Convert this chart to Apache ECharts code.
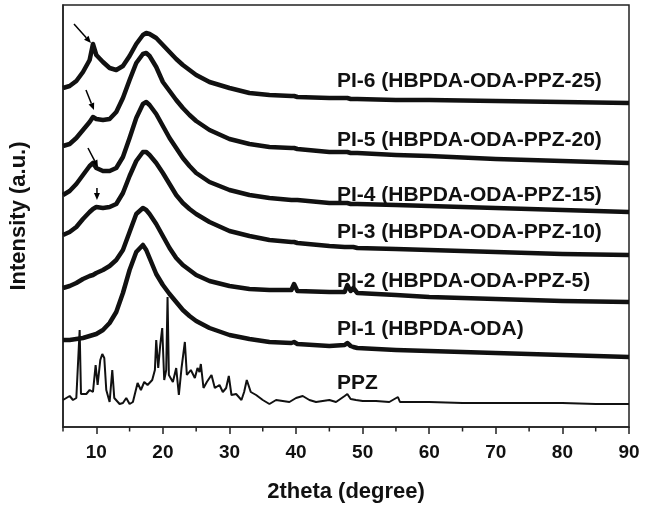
<!DOCTYPE html>
<html>
<head>
<meta charset="utf-8">
<script src="https://cdn.jsdelivr.net/npm/echarts@6/dist/echarts.min.js"></script>
<style>
html,body{margin:0;padding:0;background:#fff;}
#chart{width:646px;height:508px;}
</style>
</head>
<body>
<div id="chart"></div>
<script>
// 2theta grid (degree) shared by the PI films
const theta = [5,6,7,8,9,9.5,10,11,12,13,14,15,16,17,17.5,18,19,20,21,22,23,24,25,27,30,33,36,39.3,39.7,40.2,45,47.3,47.7,48.2,48.6,49.2,55,60,70,80,90];

// Intensity (a.u., stacked offsets as in the figure)
const pi6 = [339,341,346,355,367,383,372,365,359,357,361,371,383,392,394,393,389,382,375,368,362,357,352,345,339,334,332,331,331,330,329,329,329,328,328,328,327,327,326,325,324];
const pi5 = [281,283,289,297,305,310,308,307,308,315,329,347,364,373,374,371,360,345,336,327,319,312,306,297,288,283,280,279,279,278,275,275,275,274,274,274,272,271,268,266,264];
const pi4 = [232,236,243,252,261,264,259,256,256,259,270,289,309,323,325,322,313,301,289,279,269,261,254,245,237,232,229,227,227,227,224,224,224,223,223,223,222,221,219,217,215];
const pi3 = [192,195,200,208,215,218,220,219,220,223,234,251,266,275,275,272,264,254,243,232,224,218,213,205,196,191,187,185,185,184,181,180,180,180,180,179,178,177,175,173,172];
const pi2 = [139,141,144,148,151,152,154,157,161,167,177,195,213,219,217,213,203,191,179,169,162,157,152,146,141,138,137,137,143,136,135,135,142,136,139,134,132,130,128,126,125];
const pi1 = [87,87,88,89,91,92,93,97,104,115,134,157,175,182,177,169,153,142,133,125,117,111,106,99,92,88,85,84,85,83,81,82,84,81,80,79,77,76,74,72,70];

// PPZ (crystalline) pattern
const thetaPPZ = [5,5.5,6,6.5,7,7.3,7.5,7.7,8,8.5,9,9.5,9.9,10.2,10.6,10.9,11.2,11.5,12,12.4,12.7,13.5,14,14.5,15,15.5,16.2,16.7,17.2,17.7,18.4,18.8,19,19.3,19.6,19.9,20.2,20.5,20.7,20.9,21.5,22,22.4,22.8,23.3,23.6,24.2,24.8,25.2,25.5,25.7,26.1,26.6,27.3,27.8,28.5,29,29.5,29.9,30.3,31,31.8,32.2,32.6,33.2,34,35,36,37,38,39,40,41,42,43,44,45,46,47.3,47.7,48.2,49,50,52,54,55.3,55.6,58,60,65,70,75,80,85,90];
const ppz = [27,29,31,27,29,31,97,33,31,33,37,35,62,42,67,73,69,37,25,57,29,23,24,29,23,25,44,37,45,42,47,57,87,59,82,99,47,57,130,52,45,59,32,59,85,52,57,49,59,55,63,39,45,52,39,42,35,39,51,32,33,27,35,47,35,32,27,23,27,26,25,29,31,27,25,26,27,25,31,33,28,27,26,26,25,30,25,25,25,24,24,24,24,23,23];

const seriesNames = ['PI-6 (HBPDA-ODA-PPZ-25)','PI-5 (HBPDA-ODA-PPZ-20)','PI-4 (HBPDA-ODA-PPZ-15)','PI-3 (HBPDA-ODA-PPZ-10)','PI-2 (HBPDA-ODA-PPZ-5)','PI-1 (HBPDA-ODA)','PPZ'];

// axis ticks
const xMajorTicks = [10,20,30,40,50,60,70,80,90];
const xMinorTicks = [5,15,25,35,45,55,65,75,85];

// arrows marking the shoulder near 9-10 degree: [x0,y0,x1,y1]
const arrows = [[6.65,403,9.2,384],[8.45,337,9.65,317],[8.75,279,10.25,260],[10.1,239,10.1,227]];

// label layout (pixels)
const labelX = 337;
const labelY = [81,140,195,232,281,329,383];

const FONT = "'Liberation Sans', Arial, Helvetica, sans-serif";
const INK = '#111';
const Y_MIN = 0, Y_MAX = 422;

const piSets = [pi6,pi5,pi4,pi3,pi2,pi1];
const series = piSets.map((arr,k)=>({
  name: seriesNames[k],
  type:'line',
  data: theta.map((t,i)=>[t,arr[i]]),
  showSymbol:false,
  symbol:'none',
  lineStyle:{color:INK,width:4.5,join:'round'},
  z:3,
  animation:false
}));
series.push({
  name: seriesNames[6],
  type:'line',
  data: thetaPPZ.map((t,i)=>[t,ppz[i]]),
  showSymbol:false,
  symbol:'none',
  lineStyle:{color:INK,width:2},
  animation:false
});
// arrows (annotation) drawn through the axes' scales
series.push({
  name:'arrows',
  type:'custom',
  z:6,
  silent:true,
  animation:false,
  encode:{x:[0,2],y:[1,3]},
  data: arrows,
  renderItem:function(params,api){
    const p0 = api.coord([api.value(0),api.value(1)]);
    const p1 = api.coord([api.value(2),api.value(3)]);
    const dx = p1[0]-p0[0], dy = p1[1]-p0[1];
    const len = Math.sqrt(dx*dx+dy*dy)||1;
    const ux = dx/len, uy = dy/len;
    const hl = 7, hw = 3;
    const bx = p1[0]-ux*hl, by = p1[1]-uy*hl;
    return {
      type:'group',
      children:[
        {type:'line',shape:{x1:p0[0],y1:p0[1],x2:bx,y2:by},style:{stroke:'#000',lineWidth:1.5}},
        {type:'polygon',shape:{points:[[p1[0],p1[1]],[bx-uy*hw,by+ux*hw],[bx+uy*hw,by-ux*hw]]},style:{fill:'#000'}}
      ]
    };
  }
});
// minor ticks of the 2theta axis, placed through the x scale
series.push({
  name:'minorTicks',
  type:'custom',
  silent:true,
  animation:false,
  clip:false,
  z:5,
  encode:{x:0},
  data: xMinorTicks.map(v=>[v]),
  renderItem:function(params,api){
    const p = api.coord([api.value(0),Y_MIN]);
    return {type:'line',shape:{x1:p[0],y1:p[1],x2:p[0],y2:p[1]+4.5},style:{stroke:'#222',lineWidth:1.5}};
  }
});

const chart = echarts.init(document.getElementById('chart'),null,{renderer:'canvas'});
chart.setOption({
  animation:false,
  backgroundColor:'#fff',
  grid:{left:62,right:17,top:5,bottom:81,show:true,borderColor:'#222',borderWidth:1.5,backgroundColor:'transparent'},
  xAxis:{
    type:'value',min:5,max:90,position:'bottom',
    axisLine:{show:true,onZero:false,lineStyle:{color:'#222',width:1.5}},
    axisTick:{show:true,inside:false,length:7,customValues:xMajorTicks,lineStyle:{color:'#222',width:1.5}},
    axisLabel:{show:true,customValues:xMajorTicks,margin:16,color:INK,fontFamily:FONT,fontWeight:'bold',fontSize:19},
    splitLine:{show:false},
    name:'2theta (degree)',nameLocation:'middle',nameGap:54,
    nameTextStyle:{color:INK,fontFamily:FONT,fontWeight:'bold',fontSize:22}
  },
  yAxis:{
    type:'value',min:Y_MIN,max:Y_MAX,
    axisLine:{show:true,lineStyle:{color:'#222',width:1.5}},
    axisTick:{show:false},
    axisLabel:{show:false},
    splitLine:{show:false},
    name:'Intensity (a.u.)',nameLocation:'middle',nameGap:33,
    nameTextStyle:{color:INK,fontFamily:FONT,fontWeight:'bold',fontSize:22}
  },
  graphic: seriesNames.map((n,k)=>({
    type:'text',
    x:labelX, y:labelY[k],
    style:{text:n,fill:INK,font:'bold 21px '+FONT,verticalAlign:'middle',align:'left'},
    silent:true,
    z:10
  })),
  series: series
});
</script>
</body>
</html>
